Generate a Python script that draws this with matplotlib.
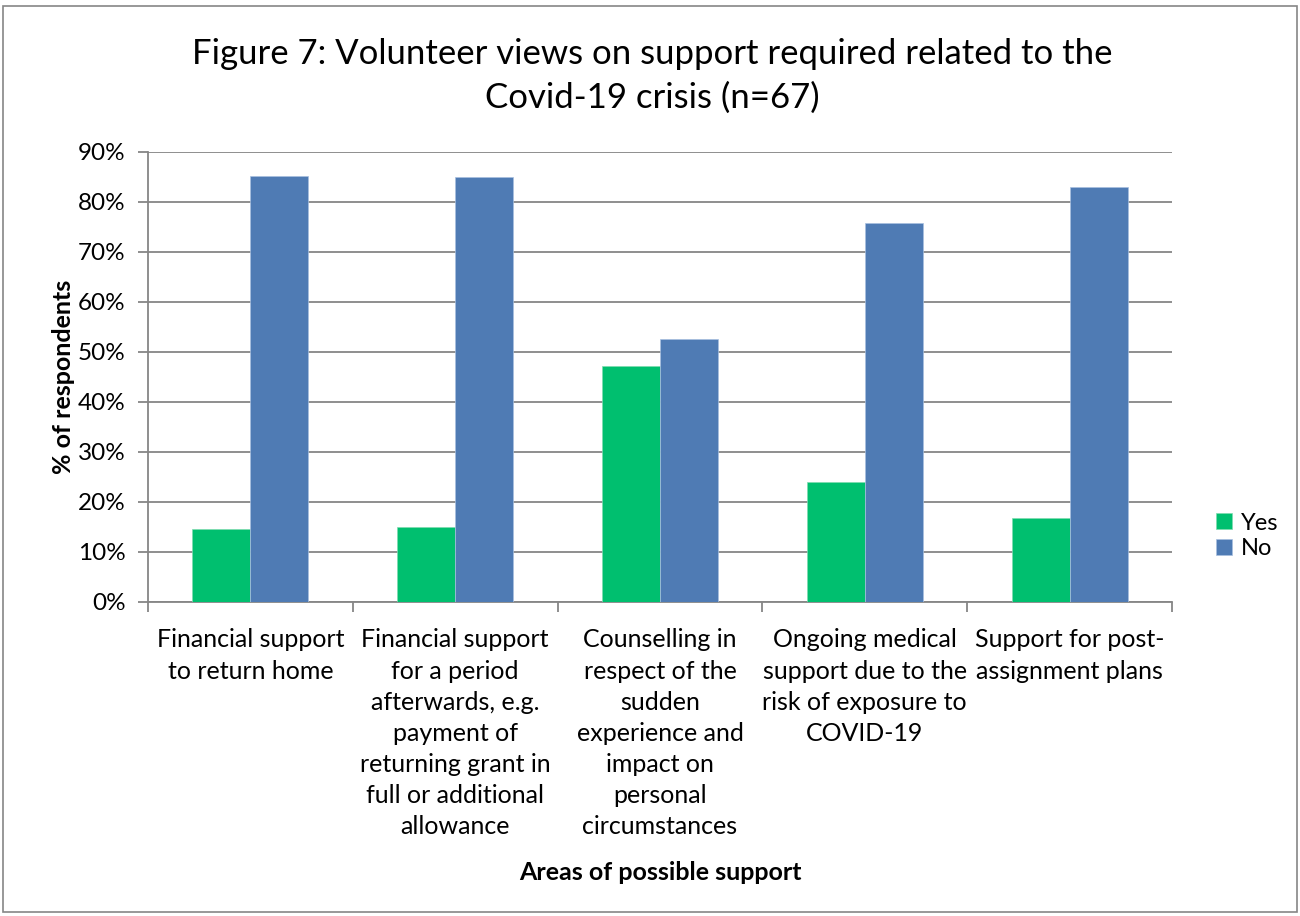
import matplotlib
matplotlib.use("Agg")
import matplotlib.pyplot as plt
import numpy as np
from matplotlib.patches import Rectangle

plt.rcParams['font.family'] = ['Lato', 'DejaVu Sans']

categories = [
    "Financial support\nto return home",
    "Financial support\nfor a period\nafterwards, e.g.\npayment of\nreturning grant in\nfull or additional\nallowance",
    "Counselling in\nrespect of the\nsudden\nexperience and\nimpact on\npersonal\ncircumstances",
    "Ongoing medical\nsupport due to the\nrisk of exposure to\nCOVID-19",
    "Support for post-\nassignment plans",
]
yes_vals = [14.7, 15.0, 47.3, 24.1, 16.9]
no_vals = [85.3, 85.0, 52.6, 75.9, 83.0]
series_names = ["Yes", "No"]
yticks = [0, 10, 20, 30, 40, 50, 60, 70, 80, 90]
ytick_labels = [f"{t}%" for t in yticks]

W, H = 1300, 916
fig = plt.figure(figsize=(13, 9.16), dpi=100)
fig.patch.set_facecolor('white')
fig.patches.append(Rectangle((3/W, 4/H), 1 - 6/W, 1 - 10/H, transform=fig.transFigure,
                             fill=False, edgecolor='#868686', linewidth=1.2))

ax = fig.add_axes([148/W, (H-602)/H, (1172-148)/W, (602-152)/H])
x = np.arange(len(categories))
bw = 0.283
ax.bar(x - bw/2, yes_vals, bw, color='#00BF6F', label=series_names[0], zorder=3,
       edgecolor='#7fdcb0', linewidth=0.5)
ax.bar(x + bw/2, no_vals, bw, color='#4F7BB4', label=series_names[1], zorder=3,
       edgecolor='#a8c0e0', linewidth=0.5)

ax.set_xlim(-0.5, len(categories) - 0.5)
ax.set_ylim(0, 90)
ax.set_yticks(yticks)
ax.set_yticklabels(ytick_labels, fontsize=17.5)
ax.yaxis.grid(True, color='#868686', linewidth=1.3, zorder=0)
ax.set_axisbelow(True)
for s in ['top', 'right']:
    ax.spines[s].set_visible(False)
for s in ['left', 'bottom']:
    ax.spines[s].set_color('#868686')
    ax.spines[s].set_linewidth(1.3)
ax.tick_params(axis='y', direction='out', length=7, width=1.3, color='#868686', pad=9)
ax.set_xticks(np.arange(-0.5, len(categories)), minor=False)
ax.set_xticklabels([])
ax.tick_params(axis='x', direction='out', length=7, width=1.3, color='#868686')
ax.set_xticks(x, minor=True)
ax.set_xticklabels(categories, minor=True, fontsize=18, linespacing=1.43, va='top')
ax.tick_params(axis='x', which='minor', length=0, pad=19)

ax.set_ylabel("% of respondents", fontsize=18, fontweight='bold', labelpad=2)
fig.text(660/W, 1 - 873/H, "Areas of possible support", fontsize=18, fontweight='bold',
         ha='center', va='center')

fig.text(652/W, 1 - 76/H, "Figure 7: Volunteer views on support required related to the\nCovid-19 crisis (n=67)",
         fontsize=25, ha='center', va='center', linespacing=1.42)

leg = fig.legend(loc='center left', bbox_to_anchor=(1195/W, 1 - 536/H), frameon=False,
                 fontsize=17, handlelength=0.65, handleheight=0.65, labelspacing=0.2,
                 handletextpad=0.4)

fig.savefig("out.png", dpi=100, facecolor='white')
